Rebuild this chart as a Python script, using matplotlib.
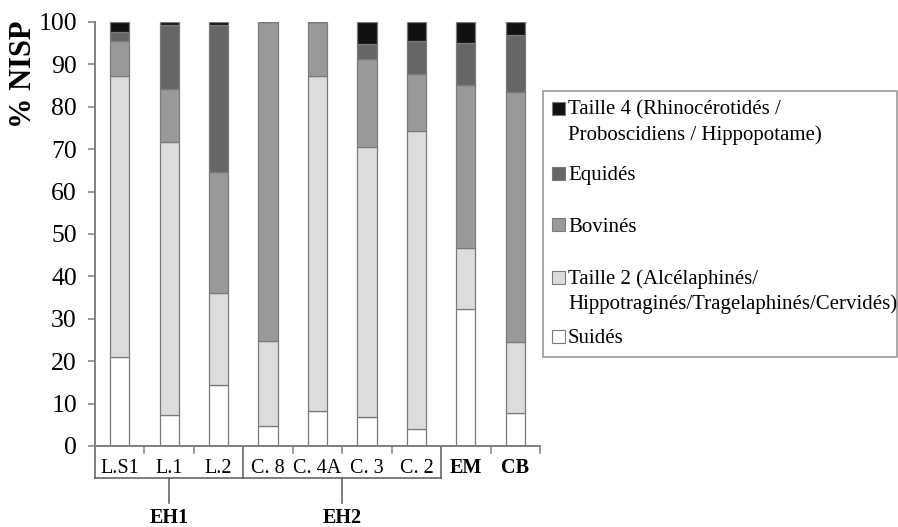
import matplotlib
matplotlib.use("Agg")
import matplotlib.pyplot as plt
import numpy as np
from matplotlib.transforms import blended_transform_factory
from matplotlib.patches import Rectangle

plt.rcParams['font.family'] = ['Liberation Serif', 'DejaVu Serif']

categories = ["L.S1", "L.1", "L.2", "C. 8", "C. 4A", "C. 3", "C. 2", "EM", "CB"]
bold_cats = ["EM", "CB"]
groups = ["EH1", "EH2"]
group_spans = [(0, 2), (3, 6)]

suides = [21.1, 7.3, 14.4, 4.8, 8.2, 6.9, 3.9, 32.3, 7.7]
taille2 = [66.2, 64.4, 21.6, 19.9, 79.1, 63.7, 70.5, 14.5, 16.9]
bovines = [8.2, 12.5, 28.6, 75.3, 12.7, 20.7, 13.3, 38.3, 58.9]
equides = [2.1, 15.1, 34.7, 0.0, 0.0, 3.4, 7.9, 10.0, 13.4]
taille4 = [2.4, 0.7, 0.7, 0.0, 0.0, 5.3, 4.4, 4.9, 3.1]

series = [suides, taille2, bovines, equides, taille4]
labels = ["Suidés",
          "Taille 2 (Alcélaphinés/\nHippotraginés/Tragelaphinés/Cervidés)",
          "Bovinés", "Equidés",
          "Taille 4 (Rhinocérotidés /\nProboscidiens / Hippopotame)"]
colors = ["#ffffff", "#dcdcdc", "#999999", "#666666", "#111111"]

W, H = 898, 527
fig = plt.figure(figsize=(W / 100, H / 100), dpi=100)
ax_l, ax_r, ax_t, ax_b = 95, 540, 22, 446
ax = fig.add_axes([ax_l / W, 1 - ax_b / H, (ax_r - ax_l) / W, (ax_b - ax_t) / H])
axh = ax_b - ax_t

x = np.arange(len(categories))
bottom = np.zeros(len(categories))
for vals, col in zip(series, colors):
    v = np.array(vals)
    ax.bar(x, v, 0.39, bottom=bottom, color=col, edgecolor="#7a7a7a", linewidth=0.9, zorder=2)
    bottom += v

ax.set_xlim(-0.5, len(categories) - 0.5)
ax.set_ylim(0, 100)
ax.set_yticks(np.arange(0, 101, 10))
ax.tick_params(axis='y', direction='out', length=5, width=1.1, color="#808080",
               labelsize=18.5, pad=8)
ax.set_xticks([])
for s in ["top", "right"]:
    ax.spines[s].set_visible(False)
for s in ["left", "bottom"]:
    ax.spines[s].set_color("#808080")
    ax.spines[s].set_linewidth(1.4)

tr = blended_transform_factory(ax.transData, ax.transAxes)
def py(px):
    return -px / axh

lc = "#5a5a5a"
group_edges = set()
for a, b in group_spans:
    group_edges.add(a - 0.5)
    group_edges.add(b + 0.5)
for e in np.arange(-0.5, len(categories), 1.0):
    depth = 32 if e in group_edges else 7
    ax.plot([e, e], [0, py(depth)], transform=tr, color="#808080" if depth == 7 else lc,
            lw=1.1, clip_on=False)

for xi, c in zip(x, categories):
    ax.text(xi, py(27), c, transform=tr, ha='center', va='baseline', fontsize=14.5,
            fontweight='bold' if c in bold_cats else 'normal')

for (a, b), g in zip(group_spans, groups):
    ax.plot([a - 0.5, b + 0.5], [py(32), py(32)], transform=tr, color=lc, lw=1.1, clip_on=False)
    mid = (a + b) / 2
    ax.plot([mid, mid], [py(32), py(57)], transform=tr, color=lc, lw=1.1, clip_on=False)
    ax.text(mid, py(77), g, transform=tr, ha='center', va='baseline', fontsize=14.5,
            fontweight='bold')

fig.text(24 / W, 1 - 74 / H, "% NISP", rotation=90, ha='center', va='center',
         fontsize=22, fontweight='bold')

leg_box = Rectangle((543 / W, 1 - 357 / H), (897 - 543) / W, (357 - 91) / H,
                    transform=fig.transFigure, facecolor='white', edgecolor="#9a9a9a",
                    linewidth=1.2)
fig.patches.append(leg_box)
entry_y = [108, 173, 225, 277.5, 336]
line_gap = 25
for i, yc in enumerate(entry_y):
    k = len(series) - 1 - i
    sq = 13
    fig.patches.append(Rectangle((552 / W, 1 - (yc + sq / 2) / H), sq / W, sq / H,
                                 transform=fig.transFigure, facecolor=colors[k],
                                 edgecolor="#7a7a7a", linewidth=0.8))
    for j, line in enumerate(labels[k].split("\n")):
        fig.text(568 / W, 1 - (yc + 6.8 + j * line_gap) / H, line, ha='left',
                 va='baseline', fontsize=15)

fig.savefig("out.png", dpi=100)
